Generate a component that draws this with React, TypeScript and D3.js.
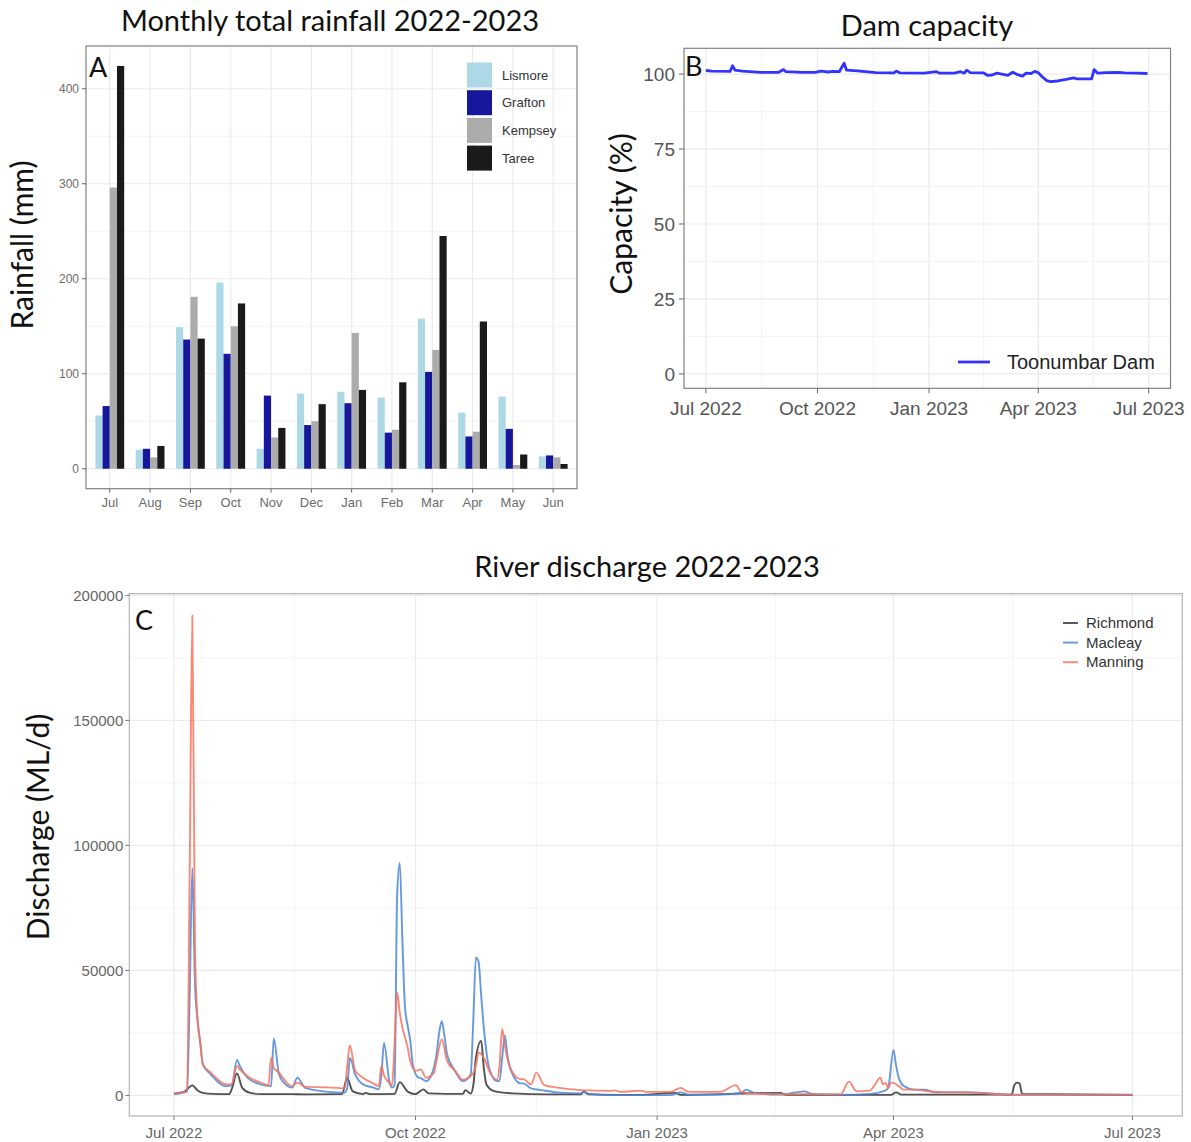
import React, { useEffect, useRef } from 'react';
import * as d3 from 'd3';

// ---- panel A: monthly rainfall (mm) ----
const months = ['Jul', 'Aug', 'Sep', 'Oct', 'Nov', 'Dec', 'Jan', 'Feb', 'Mar', 'Apr', 'May', 'Jun'];
const stations = ['Lismore', 'Grafton', 'Kempsey', 'Taree'];
const stationColors = ['#add8e6', '#17179b', '#acacac', '#1a1a1a'];
const lismoreRain = [56, 20, 149, 196, 21, 79, 81, 75, 158, 59, 76, 13];
const graftonRain = [66, 21, 136, 121, 77, 46, 69, 38, 102, 34, 42, 14];
const kempseyRain = [296, 12, 181, 150, 33, 50, 143, 41, 125, 39, 4, 12];
const tareeRain = [424, 24, 137, 174, 43, 68, 83, 91, 245, 155, 15, 5];
const rainByStation = [lismoreRain, graftonRain, kempseyRain, tareeRain];
const rainTicks = [0, 100, 200, 300, 400];

// ---- panel B: Toonumbar Dam capacity (%), [days since 1 Jul 2022, value] ----
const damCapacity: [number, number][] = [
  [0, 101.2], [5, 101.0], [20, 100.9], [22, 102.8], [24, 101.3], [30, 101.0], [45, 100.6],
  [60, 100.6], [64, 101.5], [66, 100.8], [80, 100.6], [90, 100.6], [95, 101.0], [100, 100.7],
  [105, 100.9], [110, 100.8], [114, 103.6], [116, 101.3], [125, 101.1], [140, 100.5],
  [155, 100.4], [157, 101.0], [160, 100.4], [180, 100.3], [190, 100.8], [193, 100.3],
  [205, 100.3], [210, 100.8], [213, 100.3], [215, 101.3], [218, 100.5], [229, 100.4],
  [232, 99.6], [236, 99.7], [240, 100.3], [244, 100.0], [249, 99.6], [253, 100.6],
  [257, 99.8], [261, 99.3], [264, 100.3], [268, 100.2], [271, 100.9], [274, 100.5],
  [277, 99.2], [281, 97.8], [284, 97.5], [290, 97.7], [297, 98.2], [303, 98.7], [306, 98.4],
  [318, 98.4], [320, 101.5], [323, 100.3], [330, 100.5], [340, 100.6], [345, 100.4],
  [355, 100.3], [364, 100.2],
];
const capacityTicks = [0, 25, 50, 75, 100];

// ---- panel C: river discharge (ML/d), [days since 1 Jul 2022, value] ----
const richmondFlow: [number, number][] = [
  [0, 600], [1, 800], [4, 1500], [7, 4000], [9, 2000], [11, 1000], [15, 600], [21, 500],
  [22, 2500], [24, 8800], [26, 3000], [29, 1000], [33, 500], [45, 500], [50, 400], [64, 500],
  [66, 7000], [68, 1700], [72, 500], [73, 1000], [75, 500], [84, 600], [86, 5300], [89, 1500],
  [92, 500], [95, 2400], [97, 800], [110, 600], [111, 2100], [113, 700], [114, 4000],
  [115, 15000], [117, 21800], [118, 11000], [119, 4400], [122, 1700], [129, 800], [142, 400],
  [155, 400], [156, 1500], [158, 400], [177, 200], [191, 1000], [193, 200], [231, 1000],
  [233, 200], [273, 200], [275, 1200], [277, 300], [319, 300], [320, 4000], [321, 5100],
  [322, 4800], [323, 600], [365, 200],
];
const macleayFlow: [number, number][] = [
  [0, 500], [3, 1000], [5, 1700], [6, 40000], [7, 91000], [8, 45000], [9, 30000], [10, 21000],
  [11, 12400], [14, 8400], [20, 3700], [22, 4000], [24, 14200], [25, 12000], [28, 7100],
  [33, 4400], [37, 3700], [38, 22800], [40, 8400], [43, 4000], [45, 3100], [47, 7100],
  [50, 3000], [58, 1500], [65, 1100], [66, 3000], [67, 15000], [69, 8500], [72, 4400],
  [76, 3100], [78, 2400], [79, 8000], [80, 21000], [82, 5700], [83, 3100], [84, 4000],
  [85, 80000], [86, 93000], [87, 62000], [88, 35000], [89, 28000], [90, 21800], [91, 12000],
  [93, 7200], [94, 6900], [96, 5700], [98, 8000], [100, 16500], [101, 25000], [102, 29800],
  [103, 24000], [104, 16500], [107, 9900], [110, 5700], [113, 8400], [114, 30000],
  [115, 55200], [116, 53500], [117, 40000], [118, 27200], [120, 11100], [123, 5700],
  [124, 6000], [125, 15000], [126, 24000], [127, 16000], [128, 11100], [132, 4800],
  [133, 4800], [136, 2800], [140, 2100], [146, 1200], [155, 800], [156, 1500], [158, 600],
  [168, 100], [178, 100], [189, 100], [193, 1200], [196, 300], [208, 300], [216, 1000],
  [218, 2300], [221, 1000], [231, 300], [240, 1600], [243, 600], [254, 200], [265, 600],
  [271, 2000], [272, 3000], [274, 18100], [275, 12000], [276, 7100], [278, 3700],
  [282, 2300], [286, 2300], [290, 1200], [303, 1200], [320, 200], [365, 100],
];
const manningFlow: [number, number][] = [
  [0, 800], [3, 1200], [5, 1500], [6, 90000], [7, 192000], [8, 60000], [9, 30000],
  [10, 21800], [11, 12400], [14, 9100], [20, 4400], [22, 4500], [24, 11800], [25, 10500],
  [28, 7700], [33, 5100], [36, 4100], [37, 15100], [38, 11000], [40, 9100], [43, 5100],
  [45, 3700], [47, 5100], [50, 3500], [58, 3200], [62, 3000], [65, 2800], [66, 12000],
  [67, 20000], [69, 10000], [72, 7100], [76, 4700], [78, 3700], [79, 11800], [80, 8000],
  [82, 5000], [83, 4000], [84, 20000], [85, 41200], [86, 33000], [87, 27200], [89, 19200],
  [90, 13800], [92, 9900], [94, 10400], [96, 7100], [99, 9000], [100, 13800], [102, 22500],
  [104, 13800], [107, 9900], [110, 6300], [113, 7700], [115, 12000], [116, 17100],
  [118, 15100], [120, 9900], [123, 6300], [124, 12000], [125, 26600], [126, 20000],
  [128, 11100], [132, 6500], [133, 6500], [136, 4400], [138, 9100], [141, 4100], [146, 3100],
  [155, 2100], [166, 1800], [168, 2000], [170, 1400], [178, 1900], [180, 1400], [189, 1400],
  [193, 3000], [196, 1400], [208, 1400], [214, 4100], [216, 1400], [221, 700], [231, 500],
  [246, 500], [254, 500], [257, 5500], [260, 1600], [265, 1900], [267, 4400], [269, 7100],
  [270, 4400], [271, 5000], [272, 3000], [273, 5100], [274, 5000], [276, 3700], [278, 2300],
  [282, 2300], [290, 1400], [303, 1200], [320, 300], [365, 300],
];
const rivers = ['Richmond', 'Macleay', 'Manning'];
const riverColors = ['#333333', '#4a86d8', '#f9735e'];
const riverFlows = [richmondFlow, macleayFlow, manningFlow];
const flowTicks = [0, 50000, 100000, 150000, 200000];

const dateTicks = [new Date(2022, 6, 1), new Date(2022, 9, 1), new Date(2023, 0, 1), new Date(2023, 3, 1), new Date(2023, 6, 1)];

const startDate = new Date(2022, 6, 1);
const dayToDate = (d: number) => d3.timeDay.offset(startDate, d);

const TITLE_FONT = 'Lato, sans-serif';
const TICK_FONT = '"Liberation Sans", Arial, sans-serif';
const GRID = '#ebebeb';
const TITLE_SIZE = 29;
const YLAB_SIZE = 30;

function drawPanelFrame(g: any, x0: number, x1: number, y0: number, y1: number, color: string) {
  g.append('rect')
    .attr('x', x0).attr('y', y0)
    .attr('width', x1 - x0).attr('height', y1 - y0)
    .attr('fill', 'none').attr('stroke', color).attr('stroke-width', 1.2);
}

function drawRainfall(svg: any) {
  const left = 86, right = 577, top = 46, bottom = 488.7;
  const g = svg.append('g');
  const x = d3.scalePoint<string>().domain(months).range([left, right]).padding(0.59);
  const inner = d3.scaleBand<string>().domain(stations).range([-14.4, 14.4]);
  const y = d3.scaleLinear().domain([-21, 445]).range([bottom, top]);

  // grid
  d3.range(50, 445, 100).forEach(v => {
    g.append('line').attr('x1', left).attr('x2', right).attr('y1', y(v)).attr('y2', y(v))
      .attr('stroke', GRID).attr('stroke-width', 0.6);
  });
  rainTicks.forEach(v => {
    g.append('line').attr('x1', left).attr('x2', right).attr('y1', y(v)).attr('y2', y(v))
      .attr('stroke', GRID).attr('stroke-width', 1.2);
  });
  months.forEach(m => {
    g.append('line').attr('x1', x(m)).attr('x2', x(m)).attr('y1', top).attr('y2', bottom)
      .attr('stroke', GRID).attr('stroke-width', 1.2);
  });

  // bars
  stations.forEach((s, si) => {
    g.selectAll(null)
      .data(rainByStation[si])
      .enter()
      .append('rect')
      .attr('x', (d: number, i: number) => (x(months[i]) as number) + (inner(s) as number))
      .attr('y', (d: number) => y(d))
      .attr('width', inner.bandwidth())
      .attr('height', (d: number) => y(0) - y(d))
      .attr('fill', stationColors[si]);
  });

  drawPanelFrame(g, left, right, top, bottom, '#808080');

  // axes
  rainTicks.forEach(v => {
    g.append('line').attr('x1', left - 4).attr('x2', left).attr('y1', y(v)).attr('y2', y(v))
      .attr('stroke', '#666');
    g.append('text').attr('x', left - 7).attr('y', y(v)).attr('dy', '0.35em')
      .attr('text-anchor', 'end').attr('font-family', TICK_FONT).attr('font-size', 12)
      .attr('fill', '#6b6b6b').text(v);
  });
  months.forEach(m => {
    g.append('line').attr('x1', x(m)).attr('x2', x(m)).attr('y1', bottom).attr('y2', bottom + 4)
      .attr('stroke', '#666');
    g.append('text').attr('x', x(m)).attr('y', bottom + 18)
      .attr('text-anchor', 'middle').attr('font-family', TICK_FONT).attr('font-size', 13)
      .attr('fill', '#6b6b6b').text(m);
  });

  // legend
  stations.forEach((s, i) => {
    const ly = 62.5 + i * 27.7;
    g.append('rect').attr('x', 467).attr('y', ly).attr('width', 25).attr('height', 25)
      .attr('fill', stationColors[i]);
    g.append('text').attr('x', 502).attr('y', ly + 12.5).attr('dy', '0.35em')
      .attr('font-family', TICK_FONT).attr('font-size', 13).attr('fill', '#333').text(s);
  });

  g.append('text').attr('x', 330).attr('y', 31).attr('text-anchor', 'middle')
    .attr('font-family', TITLE_FONT).attr('font-size', TITLE_SIZE).attr('fill', '#111')
    .text('Monthly total rainfall 2022-2023');
  g.append('text').attr('transform', 'translate(33,245) rotate(-90)').attr('text-anchor', 'middle')
    .attr('font-family', TITLE_FONT).attr('font-size', YLAB_SIZE).attr('fill', '#111')
    .text('Rainfall (mm)');
  g.append('text').attr('x', 89).attr('y', 77)
    .attr('font-family', TITLE_FONT).attr('font-size', 27).attr('fill', '#111').text('A');
}

function dateGrid(g: any, x: any, top: number, bottom: number) {
  dateTicks.forEach((t, i) => {
    g.append('line').attr('x1', x(t)).attr('x2', x(t)).attr('y1', top).attr('y2', bottom)
      .attr('stroke', GRID).attr('stroke-width', 1.2);
    if (i < dateTicks.length - 1) {
      const mid = new Date((t.getTime() + dateTicks[i + 1].getTime()) / 2);
      g.append('line').attr('x1', x(mid)).attr('x2', x(mid)).attr('y1', top).attr('y2', bottom)
        .attr('stroke', GRID).attr('stroke-width', 0.6);
    }
  });
}

function drawDam(svg: any) {
  const left = 684, right = 1170.5, top = 48.3, bottom = 388.3;
  const g = svg.append('g');
  const x = d3.scaleTime().domain([dayToDate(-17.3), dayToDate(383)]).range([left, right]);
  const y = d3.scaleLinear().domain([-4.8, 108.6]).range([bottom, top]);

  d3.range(12.5, 100, 25).forEach(v => {
    g.append('line').attr('x1', left).attr('x2', right).attr('y1', y(v)).attr('y2', y(v))
      .attr('stroke', GRID).attr('stroke-width', 0.6);
  });
  capacityTicks.forEach(v => {
    g.append('line').attr('x1', left).attr('x2', right).attr('y1', y(v)).attr('y2', y(v))
      .attr('stroke', GRID).attr('stroke-width', 1.2);
  });
  dateGrid(g, x, top, bottom);

  const line = d3.line<[number, number]>()
    .x(d => x(dayToDate(d[0])))
    .y(d => y(d[1]));
  g.append('path').datum(damCapacity).attr('d', line)
    .attr('fill', 'none').attr('stroke', '#3333ff').attr('stroke-width', 2.8)
    .attr('stroke-linejoin', 'round');

  drawPanelFrame(g, left, right, top, bottom, '#808080');

  capacityTicks.forEach(v => {
    g.append('line').attr('x1', left - 5).attr('x2', left).attr('y1', y(v)).attr('y2', y(v))
      .attr('stroke', '#666');
    g.append('text').attr('x', left - 9).attr('y', y(v)).attr('dy', '0.35em')
      .attr('text-anchor', 'end').attr('font-family', TICK_FONT).attr('font-size', 19)
      .attr('fill', '#555').text(v);
  });
  const fmt = d3.timeFormat('%b %Y');
  dateTicks.forEach(t => {
    g.append('line').attr('x1', x(t)).attr('x2', x(t)).attr('y1', bottom).attr('y2', bottom + 5)
      .attr('stroke', '#666');
    g.append('text').attr('x', x(t)).attr('y', bottom + 27)
      .attr('text-anchor', 'middle').attr('font-family', TICK_FONT).attr('font-size', 19)
      .attr('fill', '#555').text(fmt(t));
  });

  // legend
  g.append('line').attr('x1', 958).attr('x2', 990).attr('y1', 362).attr('y2', 362)
    .attr('stroke', '#3333ff').attr('stroke-width', 2.8);
  g.append('text').attr('x', 1007).attr('y', 362).attr('dy', '0.35em')
    .attr('font-family', TICK_FONT).attr('font-size', 20).attr('fill', '#222').text('Toonumbar Dam');

  g.append('text').attr('x', 927).attr('y', 36).attr('text-anchor', 'middle')
    .attr('font-family', TITLE_FONT).attr('font-size', TITLE_SIZE).attr('fill', '#111').text('Dam capacity');
  g.append('text').attr('transform', 'translate(632,214) rotate(-90)').attr('text-anchor', 'middle')
    .attr('font-family', TITLE_FONT).attr('font-size', YLAB_SIZE).attr('fill', '#111').text('Capacity (%)');
  g.append('text').attr('x', 685).attr('y', 76)
    .attr('font-family', TITLE_FONT).attr('font-size', 27).attr('fill', '#111').text('B');
}

function drawDischarge(svg: any) {
  const left = 129.3, right = 1182.3, top = 593.6, bottom = 1116;
  const g = svg.append('g');
  const x = d3.scaleTime().domain([dayToDate(-17), dayToDate(384)]).range([left, right]);
  const y = d3.scaleLinear().domain([-8240, 200720]).range([bottom, top]);

  d3.range(25000, 200000, 50000).forEach(v => {
    g.append('line').attr('x1', left).attr('x2', right).attr('y1', y(v)).attr('y2', y(v))
      .attr('stroke', GRID).attr('stroke-width', 0.6);
  });
  flowTicks.forEach(v => {
    g.append('line').attr('x1', left).attr('x2', right).attr('y1', y(v)).attr('y2', y(v))
      .attr('stroke', GRID).attr('stroke-width', 1.2);
  });
  dateGrid(g, x, top, bottom);

  const line = d3.line<[number, number]>()
    .curve(d3.curveMonotoneX)
    .x(d => x(dayToDate(d[0])))
    .y(d => y(d[1]));
  rivers.forEach((r, i) => {
    g.append('path').datum(riverFlows[i]).attr('d', line)
      .attr('fill', 'none').attr('stroke', riverColors[i]).attr('stroke-width', 1.9)
      .attr('stroke-opacity', 0.85).attr('stroke-linejoin', 'round');
  });

  drawPanelFrame(g, left, right, top, bottom, '#b5b5b5');

  flowTicks.forEach(v => {
    g.append('line').attr('x1', left - 4).attr('x2', left).attr('y1', y(v)).attr('y2', y(v))
      .attr('stroke', '#777');
    g.append('text').attr('x', left - 6).attr('y', y(v)).attr('dy', '0.35em')
      .attr('text-anchor', 'end').attr('font-family', TICK_FONT).attr('font-size', 15)
      .attr('fill', '#666').text(v);
  });
  const fmt = d3.timeFormat('%b %Y');
  dateTicks.forEach(t => {
    g.append('line').attr('x1', x(t)).attr('x2', x(t)).attr('y1', bottom).attr('y2', bottom + 4)
      .attr('stroke', '#777');
    g.append('text').attr('x', x(t)).attr('y', bottom + 22)
      .attr('text-anchor', 'middle').attr('font-family', TICK_FONT).attr('font-size', 15)
      .attr('fill', '#666').text(fmt(t));
  });

  // legend
  rivers.forEach((r, i) => {
    const ly = 623 + i * 19.6;
    g.append('line').attr('x1', 1063).attr('x2', 1078).attr('y1', ly).attr('y2', ly)
      .attr('stroke', riverColors[i]).attr('stroke-width', 1.9).attr('stroke-opacity', 0.85);
    g.append('text').attr('x', 1086).attr('y', ly).attr('dy', '0.35em')
      .attr('font-family', TICK_FONT).attr('font-size', 15).attr('fill', '#333').text(r);
  });

  g.append('text').attr('x', 647).attr('y', 577).attr('text-anchor', 'middle')
    .attr('font-family', TITLE_FONT).attr('font-size', TITLE_SIZE).attr('fill', '#111')
    .text('River discharge 2022-2023');
  g.append('text').attr('transform', 'translate(49,827) rotate(-90)').attr('text-anchor', 'middle')
    .attr('font-family', TITLE_FONT).attr('font-size', YLAB_SIZE).attr('fill', '#111')
    .text('Discharge (ML/d)');
  g.append('text').attr('x', 135).attr('y', 630)
    .attr('font-family', TITLE_FONT).attr('font-size', 27).attr('fill', '#111').text('C');
}

export default function App() {
  const svgRef = useRef<SVGSVGElement>(null);

  useEffect(() => {
    const svg = d3.select(svgRef.current);
    svg.selectAll('*').remove();
    svg.append('rect').attr('width', 1191).attr('height', 1142).attr('fill', '#fff');
    drawRainfall(svg);
    drawDam(svg);
    drawDischarge(svg);
  }, []);

  return (
    <svg
      ref={svgRef}
      width={1191}
      height={1142}
      style={{ position: 'absolute', left: 0, top: 0, display: 'block' }}
    />
  );
}
